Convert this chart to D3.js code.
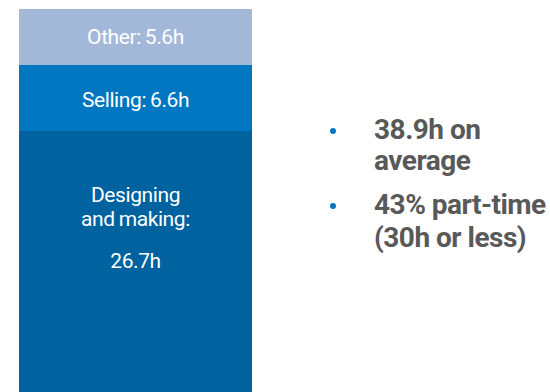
<!DOCTYPE html>
<html>
<head>
<meta charset="utf-8">
<script src="https://cdn.jsdelivr.net/npm/d3@7"></script>
<style>
  html, body { margin: 0; padding: 0; background: #ffffff; }
  svg { display: block; }
</style>
</head>
<body>
<svg id="chart" width="550" height="392"></svg>
<script>
// Average weekly hours, split by activity (stacked top to bottom)
const activities = ["Other", "Selling", "Designing and making"];
const hours = [5.6, 6.6, 26.7];
const labelLines = [["Other:\u20095.6h"], ["Selling:\u20096.6h"], ["Designing", "and\u2009making:", "", "26.7h"]];
const colors = ["#a3b8d9", "#0077c0", "#00629e"];

// Key facts listed beside the bar
const bullets = [["38.9h on", "average"], ["43% part-time", "(30h or less)"]];

const svg = d3.select("#chart");
const total = d3.sum(hours);

// 10px per hour, bar starting just below the top edge
const barTop = 9;
const y = d3.scaleLinear().domain([0, total]).range([barTop, barTop + total * 10]);
const x = d3.scaleBand().domain(["week"]).range([19, 252]).padding(0);

// Cumulative start of each segment (from the top)
const starts = hours.map((h, i) => d3.sum(hours.slice(0, i)));
const segs = activities.map((a, i) => ({ name: a, start: starts[i], end: starts[i] + hours[i], lines: labelLines[i], color: colors[i] }));

svg.append("g").selectAll("rect")
  .data(segs)
  .join("rect")
  .attr("x", x("week"))
  .attr("width", x.bandwidth())
  .attr("y", d => y(d.start))
  .attr("height", d => y(d.end) - y(d.start))
  .attr("fill", d => d.color);

// Label baseline offsets from each segment's top
const labelOffset = [35, 42, 71];
const lineGap = 24;
const cx = x("week") + x.bandwidth() / 2;

const labels = svg.append("g")
  .attr("font-family", "Roboto, sans-serif")
  .attr("font-size", 21)
  .attr("letter-spacing", -0.4)
  .attr("fill", "#ffffff")
  .attr("text-anchor", "middle");

segs.forEach((d, i) => {
  const t = labels.append("text");
  let dy = 0;
  d.lines.forEach(line => {
    if (line === "") { dy += 18; return; }
    t.append("tspan")
      .attr("x", cx)
      .attr("y", y(d.start) + labelOffset[i] + dy)
      .text(line);
    dy += lineGap;
  });
});

// Bullet list
const bulletTop = [139, 214];
const bulletLine = [31, 33];
const list = svg.append("g")
  .attr("font-family", "Roboto, sans-serif")
  .attr("font-weight", "bold")
  .attr("font-size", 28)
  .attr("letter-spacing", -0.5)
  .attr("fill", "#595959");

bullets.forEach((lines, i) => {
  list.append("circle")
    .attr("cx", 333)
    .attr("cy", bulletTop[i] - 8)
    .attr("r", 3)
    .attr("fill", "#0077c0");
  const t = list.append("text");
  lines.forEach((line, j) => {
    t.append("tspan")
      .attr("x", 374)
      .attr("y", bulletTop[i] + j * bulletLine[i])
      .text(line);
  });
});
</script>
</body>
</html>
